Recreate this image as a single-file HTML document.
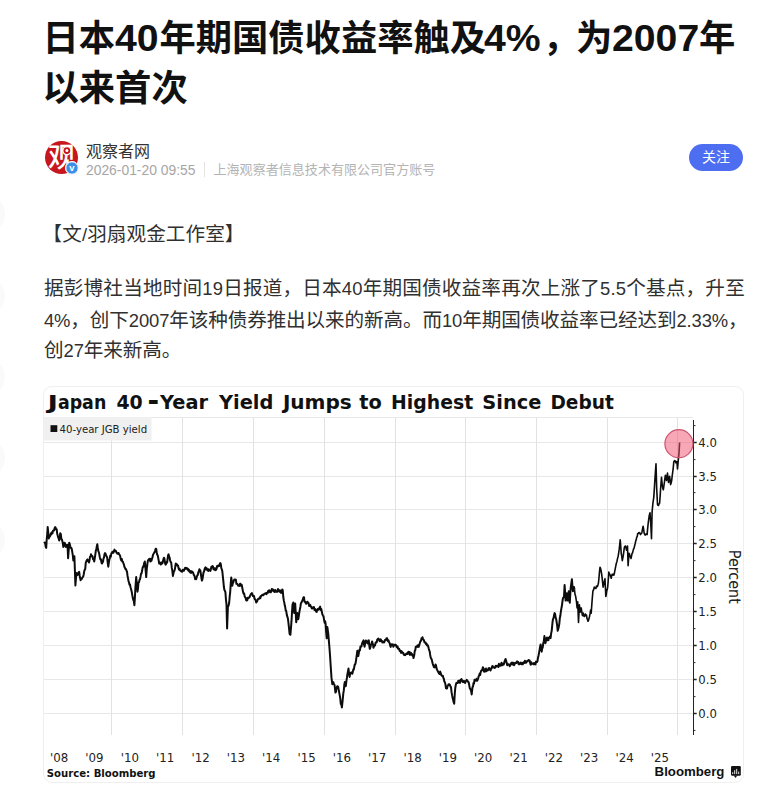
<!DOCTYPE html>
<html lang="zh-CN">
<head>
<meta charset="utf-8">
<title>日本40年期国债收益率触及4%，为2007年以来首次</title>
<style>
*{margin:0;padding:0;box-sizing:border-box}
html,body{width:768px;height:787px;overflow:hidden;background:#fff}
body{position:relative;font-family:"Liberation Sans","Noto Sans CJK SC",sans-serif;color:#222}
.side{position:absolute;left:-35px;width:40px;height:40px;border-radius:50%;background:#fafafa}
h1{position:absolute;left:42.5px;top:13.5px;width:720px;font-size:36.3px;line-height:50px;font-weight:700;color:#111;white-space:nowrap}
h1 .n{display:inline-block;font-size:37px;transform:scaleX(1.06);transform-origin:0 50%;margin-right:3.2px;vertical-align:baseline}
h1 .c{letter-spacing:-3px}
.avatar{position:absolute;left:45px;top:141px;width:33px;height:33px;border-radius:50%;background:#c8161d;overflow:hidden}
.badge{position:absolute;left:65px;top:161px;width:14px;height:14px;border-radius:50%;background:#3c8fe6;border:1px solid #fff}
.name{position:absolute;left:86px;top:141.7px;font-size:16px;line-height:20px;color:#333}
.meta{position:absolute;left:86px;top:160.5px;font-size:13.87px;line-height:18px;color:#a6a6a6;white-space:nowrap}
.meta .sep{position:absolute;left:118px;top:1px;width:1px;height:15px;background:#e3e3e3}
.meta .co{position:absolute;left:127.5px;top:0.4px;font-size:13.05px;color:#b4b4b4}
.follow{position:absolute;left:689px;top:144px;width:54px;height:27px;border-radius:14px;background:#4e6ef2;color:#fff;font-size:14px;line-height:26px;text-align:center}
.p{position:absolute;left:44px;width:720px;font-size:19.6px;line-height:31.3px;color:#303030;white-space:nowrap}
.p .l{font-size:18.4px}
.card{position:absolute;left:43px;top:386px;width:701px;height:397px;border:1px solid #efefef;border-radius:9px;background:#fff;overflow:hidden}
svg{position:absolute;left:0;top:0}
</style>
</head>
<body>
<div class="side" style="top:194px"></div>
<div class="side" style="top:276px"></div>
<div class="side" style="top:357px"></div>
<div class="side" style="top:438px"></div>
<div class="side" style="top:520px"></div>

<h1>日本<span class="n">40</span>年期国债收益率触及<span class="n" style="margin-left:-2px;margin-right:5.2px">4%</span><span class="c">，</span>为<span class="n" style="margin-right:4.4px">2007</span>年<br>以来首次</h1>

<div class="avatar"></div>
<div class="badge"></div>
<div class="name">观察者网</div>
<div class="meta">2026-01-20 09:55<span class="sep"></span><span class="co">上海观察者信息技术有限公司官方账号</span></div>
<div class="follow">关注</div>

<div class="p" style="top:219px;left:42.6px;letter-spacing:0.08px">【文<span class="l">/</span>羽扇观金工作室】</div>
<div class="p" style="top:273.3px;letter-spacing:0.19px">据彭博社当地时间<span class="l">19</span>日报道，日本<span class="l">40</span>年期国债收益率再次上涨了<span class="l">5.5</span>个基点，升至</div>
<div class="p" style="top:304.5px;letter-spacing:-0.115px"><span class="l">4%</span>，创下<span class="l">2007</span>年该种债券推出以来的新高。而<span class="l">10</span>年期国债收益率已经达到<span class="l">2.33%</span>，</div>
<div class="p" style="top:335.2px;letter-spacing:-0.08px">创<span class="l">27</span>年来新高。</div>

<div class="card"></div>

<svg width="768" height="787" viewBox="0 0 768 787">
  <!-- avatar glyph -->
  <text x="61.5" y="167" text-anchor="middle" font-family="'Liberation Sans','Noto Sans CJK SC',sans-serif" font-size="27" font-weight="500" fill="#fff">观</text>
  <circle cx="66.9" cy="150.6" r="4.1" fill="#c8161d" stroke="#fff" stroke-width="1.4"/>
  <circle cx="66.9" cy="150.6" r="1.5" fill="#fff"/>
  <circle cx="72" cy="168" r="6.2" fill="#3c8fe6" stroke="#fff" stroke-width="1"/>
  <text x="72" y="171.3" text-anchor="middle" font-family="'Liberation Sans',sans-serif" font-size="9.5" font-weight="700" fill="#fff">v</text>

  <!-- chart -->
  <g font-family="'DejaVu Sans',sans-serif" fill="#111">
    <g font-size="19.5px" font-weight="700"><text x="47.60" y="408.6" textLength="10.50" lengthAdjust="spacingAndGlyphs">J</text><text x="57.90" y="408.6" textLength="48.40" lengthAdjust="spacingAndGlyphs">apan</text><text x="116.40" y="408.6" textLength="26.30" lengthAdjust="spacingAndGlyphs">40</text><text x="147.6" y="410.3" font-size="28px">-</text><text x="160.10" y="408.6" textLength="48.00" lengthAdjust="spacingAndGlyphs">Year</text><text x="218.95" y="408.6" textLength="54.50" lengthAdjust="spacingAndGlyphs">Yield</text><text x="282.90" y="408.6" textLength="68.90" lengthAdjust="spacingAndGlyphs">Jumps</text><text x="359.20" y="408.6" textLength="22.55" lengthAdjust="spacingAndGlyphs">to</text><text x="391.10" y="408.6" textLength="82.10" lengthAdjust="spacingAndGlyphs">Highest</text><text x="482.30" y="408.6" textLength="59.00" lengthAdjust="spacingAndGlyphs">Since</text><text x="550.45" y="408.6" textLength="63.35" lengthAdjust="spacingAndGlyphs">Debut</text></g>
    <!-- grid -->
    <g stroke-width="1" fill="none">
      <path stroke="#e8e8e8" d="M44 417.5H693M44 442.5H693M44 476.5H693M44 509.5H693M44 543.5H693M44 577.5H693M44 611.5H693M44 645.5H693M44 679.5H693M44 713.5H693"/>
      <path stroke="#e2e2e2" d="M111.5 418V735M182.5 418V735M253.5 418V735M324.5 418V735M395.5 418V735M465.5 418V735M536.5 418V735M607.5 418V735M677.5 418V735"/>
    </g>
    <rect x="44" y="417" width="107.5" height="23.5" fill="#f0f0f0"/>
    <rect x="50.5" y="425.2" width="6.8" height="6.8" fill="#111"/>
    <text x="59.5" y="432.6" font-size="10.2px" fill="#222" textLength="87.6" lengthAdjust="spacingAndGlyphs">40-year JGB yield</text>
    <!-- axis -->
    <path d="M693.5 420V735" stroke="#222" stroke-width="1" fill="none"/><path d="M693.5 442.5h3.2M693.5 476.5h3.2M693.5 509.5h3.2M693.5 543.5h3.2M693.5 577.5h3.2M693.5 611.5h3.2M693.5 645.5h3.2M693.5 679.5h3.2M693.5 713.5h3.2" stroke="#222" stroke-width="1.6" fill="none"/><path d="M693.5 425.6h2M693.5 459.6h2M693.5 492.6h2M693.5 526.6h2M693.5 560.6h2M693.5 594.6h2M693.5 628.6h2M693.5 662.6h2M693.5 696.6h2M693.5 730.4h2" stroke="#333" stroke-width="1" fill="none"/>
    <g font-size="11.7px" fill="#222">
      <text x="698.3" y="447">4.0</text><text x="698.3" y="480.5">3.5</text><text x="698.3" y="514">3.0</text>
      <text x="698.3" y="548">2.5</text><text x="698.3" y="582">2.0</text><text x="698.3" y="616">1.5</text>
      <text x="698.3" y="649.5">1.0</text><text x="698.3" y="683.5">0.5</text><text x="698.3" y="717.5">0.0</text>
    </g>
    <text transform="translate(728.6,549.8) rotate(90)" font-size="15.5px" fill="#222" textLength="54" lengthAdjust="spacingAndGlyphs">Percent</text>
    <g font-size="11.8px" fill="#222"><text x="50.0" y="761.8">'08</text><text x="85.3" y="761.8">'09</text><text x="120.7" y="761.8">'10</text><text x="156.0" y="761.8">'11</text><text x="191.4" y="761.8">'12</text><text x="226.7" y="761.8">'13</text><text x="262.0" y="761.8">'14</text><text x="297.4" y="761.8">'15</text><text x="332.7" y="761.8">'16</text><text x="368.1" y="761.8">'17</text><text x="403.4" y="761.8">'18</text><text x="438.7" y="761.8">'19</text><text x="474.1" y="761.8">'20</text><text x="509.4" y="761.8">'21</text><text x="544.8" y="761.8">'22</text><text x="580.1" y="761.8">'23</text><text x="615.4" y="761.8">'24</text><text x="650.8" y="761.8">'25</text></g>
    <text x="46.8" y="777.3" font-size="10px" font-weight="700" fill="#111" textLength="108.8" lengthAdjust="spacingAndGlyphs">Source: Bloomberg</text>
        <polyline fill="none" stroke="#0c0c0c" stroke-width="2" stroke-linejoin="round" points="44.2,541.7 44.7,542.65 45.2,543.61 45.7,546.86 46.2,547.9 46.7,539.51 47.2,534.16 47.7,527.1 48.25,532.34 48.8,538.5 49.33,535.96 49.87,536.46 50.4,535.4 50.92,533.3 51.45,534.12 51.98,532.36 52.5,533.3 53.02,530.61 53.55,530.44 54.08,530.51 54.6,528.1 55.12,527.1 55.65,527.71 56.18,529.36 56.7,529.2 57.2,533.82 57.7,535.4 58.2,537.4 58.7,538.52 59.2,540.6 59.7,538.57 60.2,533.3 60.77,533.86 61.33,538.72 61.9,539.6 62.37,541.32 62.83,543.26 63.3,546.9 63.95,543.5 64.6,542.7 65.07,543.45 65.53,546.57 66.0,546.9 66.5,545.11 67.0,545.78 67.5,544.8 68.1,558.3 68.65,550.97 69.2,542.7 69.73,544.0 70.27,546.33 70.8,547.9 71.3,547.81 71.8,549.2 72.3,552.1 72.8,555.25 73.3,560.4 73.85,558.91 74.4,556.2 74.9,570.55 75.4,585.4 75.95,578.52 76.5,572.9 77.0,574.24 77.5,575.0 78.07,573.81 78.63,572.25 79.2,571.9 79.67,575.67 80.13,578.11 80.6,580.2 81.12,578.55 81.65,578.9 82.17,577.96 82.7,577.1 83.22,576.55 83.75,574.23 84.28,570.9 84.8,569.8 85.27,568.67 85.73,562.97 86.2,561.5 86.85,560.17 87.5,559.4 88.0,561.31 88.5,560.28 89.0,562.5 89.5,560.39 90.0,556.78 90.5,556.85 91.0,554.2 91.5,555.77 92.0,555.78 92.5,556.2 93.07,559.24 93.63,559.1 94.2,561.5 94.73,558.66 95.27,554.82 95.8,551.0 96.3,549.0 96.8,546.32 97.3,544.2 97.8,547.99 98.3,550.98 98.8,552.1 99.33,554.45 99.87,557.52 100.4,559.4 100.97,559.27 101.53,562.82 102.1,563.5 102.57,562.27 103.03,561.71 103.5,558.3 104.0,557.66 104.5,554.1 105.0,553.1 105.57,553.75 106.13,555.74 106.7,556.2 107.23,558.08 107.77,563.07 108.3,566.7 108.8,562.77 109.3,559.8 109.8,558.3 110.33,555.5 110.85,556.61 111.38,553.14 111.9,553.1 112.43,551.72 112.95,551.68 113.47,552.79 114.0,551.0 114.5,549.57 115.0,550.83 115.5,551.17 116.0,551.0 116.53,552.83 117.05,553.14 117.57,553.81 118.1,553.1 118.62,553.12 119.15,554.36 119.67,554.94 120.2,556.2 120.72,558.83 121.25,560.41 121.78,558.99 122.3,561.5 122.83,561.7 123.35,563.19 123.88,564.49 124.4,566.7 124.93,567.67 125.45,569.05 125.97,568.97 126.5,570.8 127.0,571.71 127.5,575.72 128.0,578.16 128.5,581.2 129.0,582.49 129.5,584.87 130.0,584.4 130.57,587.48 131.13,589.32 131.7,591.7 132.23,594.87 132.77,597.83 133.3,600.0 133.85,601.08 134.4,605.2 134.9,597.71 135.4,587.5 136.2,577.1 136.85,585.35 137.5,591.7 138.0,588.27 138.5,582.3 139.0,582.28 139.5,579.87 140.0,579.2 140.53,576.76 141.05,573.65 141.57,573.36 142.1,570.8 142.57,567.94 143.03,566.6 143.5,566.7 144.15,563.11 144.8,561.5 145.27,565.55 145.73,571.36 146.2,577.1 146.75,569.33 147.3,564.6 147.8,561.17 148.3,559.95 148.8,559.4 149.33,558.74 149.87,560.34 150.4,561.5 150.93,558.84 151.45,560.67 151.97,558.74 152.5,557.3 153.03,554.81 153.55,553.86 154.07,552.88 154.6,552.1 155.13,550.6 155.67,548.75 156.2,549.0 156.7,552.25 157.2,554.81 157.7,555.2 158.2,557.85 158.7,560.68 159.2,563.5 159.73,562.46 160.27,562.88 160.8,564.6 161.33,563.29 161.85,562.25 162.38,563.39 162.9,561.5 163.4,559.28 163.9,557.75 164.4,558.3 165.0,562.98 165.6,564.6 166.1,564.0 166.6,562.0 167.1,562.5 167.6,559.0 168.1,555.2 168.6,554.29 169.1,556.7 169.6,557.3 170.13,560.66 170.67,562.0 171.2,562.5 171.77,567.67 172.33,570.69 172.9,576.0 173.4,573.81 173.9,571.4 174.4,570.8 174.87,569.29 175.33,566.04 175.8,563.5 176.37,565.15 176.93,564.32 177.5,565.6 178.03,565.46 178.55,568.26 179.07,569.65 179.6,568.8 180.12,570.5 180.65,570.84 181.17,571.38 181.7,570.8 182.22,571.62 182.75,569.87 183.28,570.86 183.8,570.8 184.3,569.81 184.8,568.2 185.3,567.69 185.8,568.8 186.33,568.05 186.85,567.98 187.38,569.45 187.9,568.8 188.43,570.85 188.95,569.62 189.47,571.79 190.0,570.8 190.53,572.73 191.05,572.9 191.57,571.16 192.1,571.9 192.67,571.98 193.23,573.04 193.8,575.0 194.27,575.37 194.73,576.79 195.2,579.2 195.7,578.92 196.2,579.16 196.7,577.1 197.3,575.4 197.83,575.01 198.35,572.23 198.88,571.27 199.4,569.2 199.87,571.59 200.33,570.52 200.8,573.3 201.35,577.5 201.9,580.6 202.43,579.23 202.97,576.03 203.5,572.3 204.0,571.75 204.5,569.43 205.0,568.1 205.54,567.23 206.08,569.52 206.62,568.19 207.16,570.0 207.7,569.2 208.22,571.05 208.75,569.35 209.28,569.61 209.8,570.2 210.33,570.94 210.85,569.41 211.38,566.75 211.9,567.1 212.43,566.08 212.95,566.41 213.47,569.23 214.0,568.1 214.47,569.84 214.93,568.3 215.4,570.2 215.97,569.91 216.53,569.03 217.1,566.0 217.62,566.53 218.15,565.49 218.67,566.17 219.2,566.0 219.73,564.08 220.27,563.02 220.8,564.0 221.3,568.0 221.8,569.31 222.3,571.2 222.8,575.99 223.3,580.6 223.85,586.77 224.4,590.0 224.9,590.82 225.4,592.1 225.95,599.61 226.5,604.6 227.1,628.5 227.9,606.7 228.55,605.71 229.2,602.5 229.7,596.32 230.2,592.1 230.7,583.96 231.2,577.5 231.75,580.95 232.3,585.8 232.8,583.18 233.3,582.63 233.8,580.6 234.33,579.45 234.87,579.66 235.4,579.6 235.9,579.75 236.4,583.79 236.9,583.8 237.37,583.97 237.83,584.99 238.3,585.8 238.87,585.42 239.43,585.84 240.0,583.8 240.57,583.86 241.13,585.89 241.7,584.8 242.17,587.24 242.63,589.77 243.1,592.1 243.6,593.55 244.1,593.2 244.6,596.2 245.13,597.4 245.67,597.92 246.2,600.4 246.72,598.19 247.25,600.37 247.78,597.71 248.3,598.3 248.83,597.43 249.35,597.52 249.88,596.17 250.4,595.2 250.9,593.91 251.4,593.86 251.9,593.1 252.43,594.32 252.97,596.13 253.5,596.2 254.0,595.93 254.5,598.54 255.0,599.4 255.6,600.09 256.2,602.5 256.7,600.71 257.2,601.36 257.7,599.4 258.23,598.9 258.75,598.56 259.27,598.71 259.8,597.3 260.32,598.18 260.85,596.06 261.38,596.11 261.9,595.2 262.42,594.97 262.95,594.74 263.48,595.11 264.0,594.2 264.5,593.76 265.0,593.76 265.5,593.3 266.0,593.1 266.52,594.08 267.05,592.73 267.58,592.81 268.1,591.0 268.62,592.5 269.15,590.18 269.68,591.2 270.2,591.0 270.73,592.26 271.25,591.66 271.77,589.02 272.3,590.0 272.82,589.24 273.35,590.85 273.88,590.12 274.4,592.1 274.92,590.94 275.45,590.1 275.98,591.85 276.5,591.0 277.0,591.72 277.5,591.85 278.0,589.08 278.5,590.0 279.02,591.26 279.55,591.59 280.08,590.36 280.6,592.1 281.12,592.88 281.65,592.64 282.18,589.57 282.7,590.0 283.25,596.74 283.8,600.4 284.3,602.65 284.8,605.6 285.27,607.29 285.73,610.73 286.2,610.8 286.85,615.08 287.5,617.1 288.0,619.05 288.5,623.3 289.05,628.32 289.6,633.8 290.4,634.8 290.95,628.05 291.5,621.2 292.0,612.35 292.5,604.6 293.3,602.5 294.2,612.9 294.7,607.17 295.2,603.5 295.7,612.28 296.2,622.3 296.75,618.36 297.3,612.9 297.8,614.42 298.3,619.2 298.85,615.73 299.4,611.9 299.9,609.1 300.4,606.7 300.9,603.33 301.4,602.66 301.9,601.5 302.43,600.52 302.97,598.74 303.5,597.3 304.0,597.22 304.5,601.75 305.0,601.5 305.57,602.81 306.13,603.77 306.7,602.5 307.23,601.68 307.75,602.75 308.27,602.51 308.8,604.6 309.3,606.07 309.8,604.87 310.3,604.92 310.8,606.7 311.32,606.69 311.85,608.6 312.38,608.53 312.9,607.7 313.42,607.15 313.95,607.06 314.48,609.95 315.0,608.8 315.57,610.07 316.13,611.55 316.7,611.9 317.17,609.8 317.63,609.0 318.1,609.8 318.6,609.74 319.1,608.15 319.6,607.7 320.13,606.61 320.67,609.92 321.2,608.8 321.77,611.46 322.33,614.23 322.9,615.4 323.55,616.58 324.2,620.6 324.67,622.88 325.13,621.26 325.6,623.8 326.15,632.28 326.7,638.3 327.3,626.9 327.8,630.39 328.3,634.2 329.2,644.6 330.0,655.0 330.8,667.5 331.5,677.9 332.3,684.2 332.8,682.6 333.3,682.1 333.95,683.83 334.6,685.2 335.4,692.5 335.95,691.85 336.5,688.3 337.1,686.46 337.7,686.2 338.25,687.04 338.8,690.4 339.3,693.09 339.8,695.6 340.3,698.91 340.8,704.0 341.35,704.42 341.9,707.5 342.7,699.8 343.25,693.95 343.8,690.4 344.3,684.72 344.8,682.1 345.3,683.14 345.8,686.2 346.35,681.41 346.9,677.9 347.4,674.14 347.9,671.7 348.5,668.5 349.05,673.58 349.6,676.9 350.1,674.09 350.6,672.7 351.17,673.07 351.73,672.34 352.3,673.8 352.8,671.88 353.3,669.36 353.8,669.6 354.27,667.02 354.73,664.49 355.2,664.4 355.7,662.59 356.2,659.2 356.75,655.17 357.3,650.8 357.8,652.34 358.3,656.0 358.85,652.81 359.4,649.8 359.93,650.24 360.47,646.39 361.0,646.7 361.5,646.38 362.0,643.67 362.5,642.5 363.0,641.43 363.5,640.4 364.05,644.69 364.6,646.7 365.2,643.19 365.8,640.4 366.3,641.12 366.8,642.44 367.3,642.5 367.8,643.44 368.3,640.57 368.8,640.4 369.3,645.73 369.8,648.8 370.4,647.4 371.0,644.6 371.55,643.51 372.1,641.5 372.57,643.24 373.03,645.12 373.5,647.7 374.0,645.48 374.5,645.04 375.0,645.6 375.6,642.59 376.2,642.5 376.7,642.29 377.2,639.6 377.7,639.4 378.2,638.59 378.7,638.65 379.2,640.4 379.73,641.23 380.27,640.99 380.8,639.4 381.3,641.01 381.8,640.73 382.3,642.5 382.87,641.62 383.43,641.8 384.0,642.5 384.47,641.66 384.93,639.94 385.4,640.4 385.97,639.52 386.53,638.2 387.1,638.3 387.57,640.57 388.03,641.31 388.5,640.4 389.07,642.29 389.63,643.0 390.2,645.6 390.7,646.85 391.2,644.29 391.7,644.6 392.23,644.81 392.77,644.3 393.3,646.7 393.87,645.6 394.43,645.21 395.0,644.6 395.5,645.31 396.0,644.98 396.5,646.7 397.03,647.42 397.57,646.42 398.1,648.8 398.6,648.66 399.1,648.74 399.6,650.8 400.07,651.16 400.53,650.64 401.0,652.9 401.57,651.28 402.13,652.23 402.7,652.9 403.2,652.69 403.7,654.59 404.2,655.0 404.73,654.77 405.27,655.19 405.8,654.0 406.3,654.17 406.8,654.0 407.3,652.9 407.87,653.86 408.43,651.86 409.0,651.9 409.47,652.01 409.93,654.95 410.4,654.0 410.97,652.81 411.53,654.76 412.1,654.0 412.57,655.85 413.03,655.18 413.5,658.1 414.15,655.59 414.8,650.8 415.3,650.08 415.8,646.7 416.3,646.77 416.8,646.76 417.3,645.6 417.8,647.03 418.3,645.11 418.8,646.7 419.4,644.68 420.0,642.5 420.5,641.11 421.0,640.84 421.5,638.3 422.0,638.84 422.5,637.3 423.0,639.44 423.5,639.65 424.0,640.4 424.53,642.44 425.07,642.42 425.6,642.5 426.1,644.19 426.6,643.65 427.1,645.6 427.67,645.07 428.23,646.49 428.8,648.8 429.27,650.39 429.73,651.59 430.2,655.0 430.77,657.88 431.33,658.67 431.9,660.2 432.37,662.37 432.83,664.1 433.3,665.4 433.95,667.06 434.6,667.5 435.07,666.76 435.53,664.41 436.0,665.4 436.5,668.15 437.0,669.71 437.5,670.6 438.07,671.68 438.63,672.85 439.2,673.8 439.67,673.97 440.13,671.59 440.6,672.7 441.25,675.06 441.9,675.8 442.37,675.66 442.83,675.75 443.3,677.9 443.8,678.5 444.3,681.48 444.8,682.1 445.4,684.2 446.0,688.3 446.5,688.42 447.0,688.52 447.5,686.2 448.0,685.51 448.5,684.47 449.0,684.2 449.5,684.53 450.0,685.0 450.5,686.67 451.0,687.1 451.55,692.16 452.1,695.4 452.6,697.9 453.1,699.6 453.65,702.19 454.2,703.8 454.8,693.3 455.3,687.71 455.8,685.0 456.3,683.1 456.8,682.76 457.3,682.9 457.8,683.03 458.3,680.84 458.8,680.8 459.4,682.08 460.0,682.9 460.5,679.69 461.0,679.8 461.5,679.01 462.0,680.41 462.5,681.9 463.0,682.12 463.5,681.82 464.0,680.8 464.6,682.45 465.2,682.9 465.7,681.16 466.2,680.89 466.7,679.8 467.17,680.38 467.63,681.09 468.1,681.9 468.65,682.15 469.2,685.0 469.8,688.44 470.4,689.2 471.05,690.78 471.7,694.4 472.5,687.1 473.0,686.63 473.5,682.9 474.0,683.68 474.5,679.86 475.0,680.8 475.5,679.99 476.0,680.55 476.5,678.8 477.1,680.89 477.7,679.8 478.2,678.23 478.7,676.21 479.2,675.6 479.67,673.58 480.13,675.05 480.6,672.5 481.25,670.47 481.9,670.4 482.4,669.13 482.9,667.3 483.45,668.18 484.0,671.5 484.47,670.88 484.93,671.64 485.4,669.4 485.9,668.48 486.4,671.16 486.9,670.4 487.43,669.73 487.97,670.32 488.5,668.3 489.0,669.36 489.5,668.12 490.0,669.4 490.57,670.39 491.13,668.62 491.7,668.3 492.17,666.35 492.63,665.95 493.1,667.3 493.67,667.47 494.23,667.53 494.8,667.9 495.27,666.83 495.73,665.88 496.2,666.7 496.77,666.0 497.33,665.74 497.9,666.2 498.4,667.02 498.9,663.84 499.4,665.2 499.93,665.72 500.47,665.69 501.0,664.2 501.5,662.77 502.0,665.38 502.5,663.8 503.07,664.29 503.63,664.7 504.2,663.1 504.67,661.02 505.13,659.93 505.6,659.0 506.15,660.69 506.7,663.1 507.23,665.16 507.77,664.14 508.3,664.2 508.8,664.39 509.3,665.29 509.8,666.2 510.37,664.77 510.93,663.33 511.5,664.2 511.97,662.48 512.43,664.6 512.9,663.1 513.47,662.74 514.03,665.31 514.6,664.2 515.07,662.98 515.53,662.67 516.0,663.1 516.57,662.8 517.13,661.38 517.7,662.1 518.2,662.0 518.7,664.32 519.2,663.1 519.73,664.21 520.27,663.76 520.8,662.5 521.3,663.15 521.8,664.31 522.3,663.1 522.87,664.27 523.43,662.6 524.0,662.1 524.47,662.98 524.93,660.83 525.4,662.5 525.97,662.79 526.53,661.33 527.1,661.0 527.57,661.53 528.03,660.82 528.5,660.0 529.07,660.31 529.63,660.53 530.2,663.1 530.7,664.78 531.2,662.3 531.7,663.8 532.23,663.84 532.77,663.54 533.3,664.2 533.87,663.15 534.43,664.28 535.0,663.1 535.5,664.39 536.0,661.62 536.5,662.1 537.0,662.08 537.5,661.0 538.0,657.72 538.5,655.8 539.05,652.89 539.6,649.6 540.1,646.64 540.6,644.4 541.15,646.92 541.7,651.7 542.2,648.45 542.7,647.5 543.25,643.36 543.8,641.2 544.4,636.0 544.9,641.03 545.4,643.3 545.95,640.69 546.5,638.1 546.97,637.51 547.43,640.21 547.9,639.2 548.4,640.19 548.9,637.63 549.4,637.1 550.0,636.37 550.6,638.1 551.15,633.4 551.7,630.8 552.5,622.5 553.0,619.01 553.5,618.3 554.05,615.16 554.6,613.1 555.1,613.81 555.6,617.3 556.15,619.01 556.7,622.5 557.2,625.83 557.7,630.8 558.25,628.99 558.8,626.7 559.3,623.82 559.8,618.3 560.3,616.05 560.8,612.1 561.35,608.65 561.9,605.8 562.4,601.86 562.9,598.5 563.45,597.58 564.0,596.5 564.6,585.0 565.1,592.38 565.6,600.6 566.15,596.4 566.7,593.3 567.2,595.46 567.7,600.6 568.25,595.14 568.8,591.2 569.3,598.54 569.8,602.7 570.3,593.63 570.8,587.1 571.35,583.16 571.9,579.2 572.4,585.64 572.9,591.2 573.45,590.38 574.0,587.1 574.5,589.78"/>
    <polyline fill="none" stroke="#0c0c0c" stroke-width="1.6" stroke-linejoin="round" points="574.5,589.78 575.0,594.4 575.5,595.67 576.0,598.5 576.55,602.34 577.1,607.9 577.7,601.7 578.5,622.5 579.4,604.8 580.2,612.1 580.7,609.66 581.2,607.9 581.75,611.37 582.3,615.2 582.8,615.69 583.3,613.1 583.8,615.32 584.3,616.43 584.8,616.2 585.4,614.07 586.0,615.2 586.5,615.01 587.0,618.71 587.5,619.4 588.0,621.25 588.5,620.4 589.05,618.21 589.6,616.2 590.1,613.4 590.6,610.0 591.2,613.1 592.1,600.6 592.9,591.2 593.8,589.2 594.27,587.13 594.73,588.1 595.2,588.1 595.85,588.5 596.5,586.0 596.97,586.77 597.43,586.54 597.9,585.0 598.45,582.96 599.0,577.7 599.5,571.64 600.0,567.3 600.5,568.07 601.0,570.4 601.55,573.36 602.1,577.7 602.6,582.44 603.1,587.1 603.65,584.86 604.2,581.9 605.0,578.8 605.8,596.5 606.25,594.73 606.7,591.2 607.2,589.59 607.7,587.1 608.25,580.09 608.8,572.5 608.8,572.1 609.27,573.66 609.73,574.08 610.2,575.2 610.7,576.85 611.2,578.3 611.75,575.33 612.3,574.2 612.8,575.1 613.3,574.33 613.8,575.2 614.33,573.61 614.87,570.62 615.4,567.9 615.9,565.44 616.4,563.02 616.9,561.7 617.5,558.6 618.1,556.5 618.65,553.12 619.2,549.2 619.7,544.9 620.2,539.8 620.7,545.77 621.2,553.3 621.75,556.09 622.3,560.6 622.8,558.05 623.3,555.4 623.85,551.42 624.4,547.1 624.9,546.33 625.4,546.0 625.95,547.55 626.5,550.2 627.0,548.3 627.5,546.0 628.1,565.8 629.0,553.3 629.5,553.92 630.0,556.5 630.5,557.1 631.0,558.5 631.55,555.82 632.1,553.3 632.57,552.85 633.03,550.86 633.5,549.2 634.15,547.87 634.8,545.0 635.27,543.22 635.73,541.0 636.2,539.8 636.7,537.19 637.2,536.52 637.7,533.5 638.35,533.41 639.0,532.5 639.47,532.81 639.93,532.94 640.4,534.6 640.9,533.9 641.4,533.55 641.9,532.5 642.5,529.19 643.1,526.2 643.65,529.36 644.2,533.5 644.67,534.2 645.13,535.08 645.6,534.6 646.1,534.05 646.6,533.67 647.1,534.6 647.6,529.08 648.1,524.2 648.65,519.84 649.2,515.8 650.0,512.7 650.8,524.2 651.5,538.8 652.1,511.7 652.9,503.3 653.8,497.1 654.6,484.6 655.4,472.1 656.0,463.8 656.7,488.8 657.5,504.4 658.0,505.27 658.5,505.4 659.05,503.75 659.6,503.3 660.1,496.64 660.6,488.8 661.5,477.3 662.3,485.6 662.8,488.18 663.3,489.8 663.85,486.16 664.4,482.5 664.9,478.26 665.4,475.2 665.95,478.74 666.5,480.4 667.0,476.37 667.5,473.1 668.0,478.44 668.5,482.5 669.05,478.81 669.6,476.2 670.1,479.84 670.6,484.6 671.15,483.02 671.7,480.4 672.2,475.84 672.7,472.1 673.25,467.8 673.8,461.7 674.3,461.14 674.8,460.6 675.3,461.02 675.8,462.7 676.35,461.65 676.9,461.7 677.5,469.0 678.3,459.6 679.0,453.3 679.6,442.5"/>
    <circle cx="678.9" cy="443.7" r="14" fill="rgba(242,80,112,0.5)" stroke="#c9566f" stroke-width="1.2"/>
    <text x="654.6" y="775.6" font-family="'Liberation Sans',sans-serif" font-size="13px" font-weight="700" fill="#111" textLength="69.8" lengthAdjust="spacingAndGlyphs">Bloomberg</text>
    <rect x="731" y="766" width="9.8" height="9.8" rx="1.3" fill="#111"/>
    <path d="M733.7 775.5L735.5 777.9L737.3 775.5z" fill="#111"/>
    <path d="M732.7 774.1v-1.9M734.7 774.1v-3.9M736.7 774.1v-5.2M738.7 774.1v-2.5" stroke="#fff" stroke-width="0.9" fill="none"/>
  </g>
</svg>
</body>
</html>
